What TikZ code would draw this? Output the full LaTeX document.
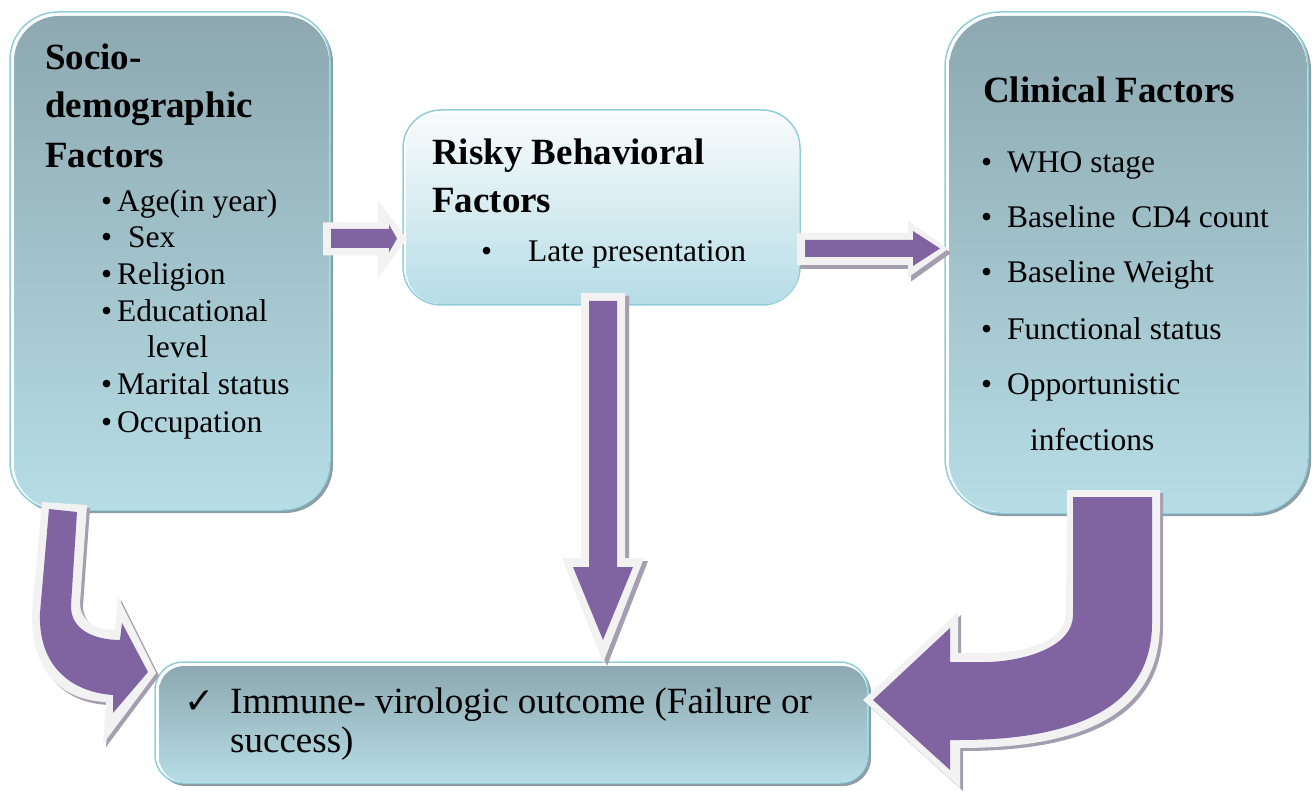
\documentclass[tikz,border=0pt]{standalone}
\usepackage{fontspec}
\setmainfont{Liberation Serif}
\newfontfamily\symbolfont{DejaVu Sans}
\usepackage{tikz}
\usetikzlibrary{calc}
\usetikzlibrary{shadows}
\usetikzlibrary{positioning}

\definecolor{boxtop}{HTML}{8DA8B0}
\definecolor{boxbot}{HTML}{B6DDE6}
\definecolor{boxlight}{HTML}{F8FBFC}
\definecolor{boxline}{HTML}{92CDDC}
\definecolor{boxshade}{HTML}{8C9FA6}
\definecolor{arrowpurple}{HTML}{8064A2}
\definecolor{arrowrim}{HTML}{F2F2F2}
\definecolor{arrowshade}{HTML}{A49EB0}

\tikzset{
  box/.style={draw=boxline, line width=1.5pt, fill=white, rounded corners=#1,
    inner sep=0pt, outer sep=0pt},
  dropshade/.style={general shadow={shadow xshift=3pt, shadow yshift=-3pt, fill=boxshade}},
  headtext/.style={anchor=base west, inner sep=0pt, font=\bfseries\fontsize{37}{44}\selectfont},
  itemtext/.style={anchor=base west, inner sep=0pt, font=\fontsize{31.5}{38}\selectfont},
  bigtext/.style={anchor=base west, inner sep=0pt, font=\fontsize{37}{44}\selectfont},
  ticktext/.style={anchor=base west, inner sep=0pt, font=\symbolfont\fontsize{36}{40}\selectfont},
  rimfill/.style={fill=arrowrim},
  bodyfill/.style={fill=arrowpurple},
  shadowfill/.style={fill=arrowshade},
}

% straight block arrow: [style]{from}{to}{half shaft}{half head}{head length}
\newcommand\blockarrow[6][]{%
  \coordinate (h) at ($(#3)!#6!(#2)$);
  \fill[#1] ($(#2)!#4!90:(#3)$) -- ($(h)!#4!-90:(#2)$) -- ($(h)!#5!-90:(#2)$)
    -- (#3) -- ($(h)!#5!90:(#2)$) -- ($(h)!#4!90:(#2)$) -- ($(#2)!#4!-90:(#3)$) -- cycle;}

\begin{document}
\begin{tikzpicture}[x=1pt, y=-1pt]

  \useasboundingbox (0,0) rectangle (1312,791);

%%%%%%%%%%%% Boxes
  \node[box=48pt, dropshade, minimum width=320pt, minimum height=498pt] (socio) at (170,261) {};
  \shade[top color=boxtop, bottom color=boxbot, rounded corners=45pt]
    ($(socio.north west)+(4,4)$) rectangle ($(socio.south east)+(-1,-1)$);

  \node[box=38pt, minimum width=397pt, minimum height=195pt] (behav) at (601.5,207.5) {};
  \shade[top color=boxlight, bottom color=boxbot, rounded corners=35pt]
    ($(behav.north west)+(3,3)$) rectangle ($(behav.south east)+(-1,-1)$);

  \node[box=55pt, dropshade, minimum width=363pt, minimum height=501pt] (clin) at (1126.5,262.5) {};
  \shade[top color=boxtop, bottom color=boxbot, rounded corners=52pt]
    ($(clin.north west)+(4,4)$) rectangle ($(clin.south east)+(-1,-1)$);

  \node[box=28pt, dropshade, minimum width=713pt, minimum height=121pt] (outcome) at (511.5,722.5) {};
  \shade[top color=boxtop, bottom color=boxbot, rounded corners=25pt]
    ($(outcome.north west)+(4,4)$) rectangle ($(outcome.south east)+(-1,-1)$);

%%%%%%%%%%%% Socio-demographic
  \node[headtext] (soch1) at (45,70) {Socio-};
  \node[headtext] (soch2) at (45,118) {demographic};
  \node[headtext] (soch3) at (45,168) {Factors};
  \foreach \yy [count=\k] in {212,248,285,322,395,432}
    \node[itemtext] (socb\k) at (101,\yy) {\textbullet};
  \foreach \txt/\xx/\yy [count=\k] in {Age(in year)/117/212, Sex/128/248, Religion/117/285,
      Educational/117/322, level/147/358, Marital status/117/395, Occupation/117/432}
    \node[itemtext] (soct\k) at (\xx,\yy) {\txt};

%%%%%%%%%%%% Risky behavioral
  \node[headtext] (behh1) at (432,165) {Risky Behavioral};
  \node[headtext] (behh2) at (432,213) {Factors};
  \node[itemtext] (behb1) at (481,262) {\textbullet};
  \node[itemtext] (beht1) at (528,262) {Late presentation};

%%%%%%%%%%%% Clinical
  \node[headtext] (clih1) at (983,103) {Clinical Factors};
  \foreach \yy [count=\k] in {173,228,283,340,395}
    \node[itemtext] (clib\k) at (981,\yy) {\textbullet};
  \foreach \txt/\xx/\yy [count=\k] in {WHO stage/1007/173, Baseline\ \ CD4 count/1007/228,
      Baseline Weight/1007/283, Functional status/1007/340, Opportunistic/1007/395,
      infections/1030/450}
    \node[itemtext] (clit\k) at (\xx,\yy) {\txt};

%%%%%%%%%%%% Outcome
  \node[ticktext] (tick) at (184,713) {✓};
  \node[bigtext] (outt1) at (230,713) {Immune- virologic outcome (Failure or};
  \node[bigtext] (outt2) at (230,752) {success)};

%%%%%%%%%%%% Straight arrows
  \coordinate (sb0r) at ($(socio.east)+(-7,-22)$);
  \coordinate (sb1r) at ($(behav.west)+(4,31.5)$);
  \coordinate (sb0) at ($(socio.east)+(1,-22.5)$);
  \coordinate (sb1) at ($(behav.west)+(-6,31)$);
  \blockarrow[rimfill]{sb0r}{sb1r}{16.5pt}{38.5pt}{29pt}
  \blockarrow[bodyfill]{sb0}{sb1}{9.5pt}{14pt}{8pt}

  \coordinate (bc0r) at ($(behav.east)+(-3,41.5)$);
  \coordinate (bc1r) at ($(clin.west)+(3,-13.5)$);
  \coordinate (bc0) at ($(behav.east)+(5,41)$);
  \coordinate (bc1) at ($(clin.west)+(-5,-14)$);
  \begin{scope}[transform canvas={xshift=3pt, yshift=-4pt}]
    \blockarrow[shadowfill]{bc0r}{bc1r}{16pt}{28.5pt}{40pt}
  \end{scope}
  \blockarrow[rimfill]{bc0r}{bc1r}{16pt}{28.5pt}{40pt}
  \blockarrow[bodyfill]{bc0}{bc1}{8.5pt}{17.5pt}{27pt}

  \coordinate (bo0r) at ($(behav.south)+(1.5,-12)$);
  \coordinate (bo1r) at ($(bo0r |- outcome.north)+(0,1)$);
  \coordinate (bo0) at ($(behav.south)+(1.5,-4)$);
  \coordinate (bo1) at ($(bo0 |- outcome.north)+(0,-22)$);
  \begin{scope}[transform canvas={xshift=4pt, yshift=-3pt}]
    \blockarrow[shadowfill]{bo0r}{bo1r}{22pt}{41pt}{105pt}
  \end{scope}
  \blockarrow[rimfill]{bo0r}{bo1r}{22pt}{41pt}{105pt}
  \blockarrow[bodyfill]{bo0}{bo1}{14pt}{30pt}{73pt}

%%%%%%%%%%%% Curved arrows
  \begin{scope}[shift={(3,3)}]
    \fill[shadowfill] (42,502) -- (87,505) -- (80,603) .. controls (80,622) and (98,630) .. (115,630)
      -- (118,597) -- (156,673) -- (103,744) -- (106,702) .. controls (58,700) and (31,668) .. (32,613) -- cycle;
    \fill[shadowfill] (1067,490) -- (1160,490) -- (1160,623) .. controls (1160,722) and (1068,748) .. (960,748)
      -- (960,788) -- (863,700) -- (958,612) -- (958,653) -- (990,653) .. controls (1030,652) and (1066,640) .. (1066,612) -- cycle;
  \end{scope}

  \fill[rimfill] (42,502) -- (87,505) -- (80,603) .. controls (80,622) and (98,630) .. (115,630)
    -- (118,597) -- (156,673) -- (103,744) -- (106,702) .. controls (58,700) and (31,668) .. (32,613) -- cycle;
  \fill[bodyfill] (49,509) -- (77,512) -- (71,605) .. controls (70,630) and (95,640) .. (120,640)
    -- (122,623) -- (148,672) -- (113,713) -- (113,695) .. controls (70,692) and (38,665) .. (40,613) -- cycle;

  \fill[rimfill] (1067,490) -- (1160,490) -- (1160,623) .. controls (1160,722) and (1068,748) .. (960,748)
    -- (960,788) -- (863,700) -- (958,612) -- (958,653) -- (990,653) .. controls (1030,652) and (1066,640) .. (1066,612) -- cycle;
  \fill[bodyfill] (1073,497) -- (1152,497) -- (1152,623) .. controls (1152,715) and (1060,740) .. (960,740)
    -- (950,740) -- (950,770) -- (873,700) -- (950,628) -- (950,662) -- (990,662) .. controls (1030,660) and (1073,645) .. (1073,615) -- cycle;

\end{tikzpicture}
\end{document}
